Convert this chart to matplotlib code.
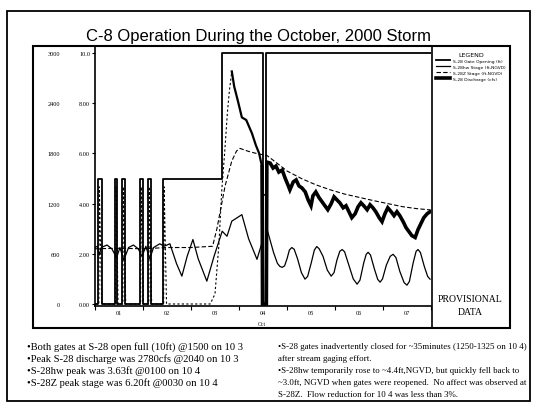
import matplotlib
matplotlib.use("Agg")
import matplotlib.pyplot as plt
from matplotlib.patches import Rectangle

# days in October 2000 (1.0 = 10/1 00:00)
gate_t = [1.00, 1.06, 1.06, 1.15, 1.15, 1.42, 1.42, 1.46, 1.46, 1.56, 1.56, 1.63, 1.63,
          1.94, 1.94, 2.00, 2.00, 2.10, 2.10, 2.17, 2.17, 2.42, 2.42, 3.64, 3.64,
          4.49, 4.49, 4.57, 4.57, 8.00]
gate_ft = [0, 0, 5, 5, 0, 0, 5, 5, 0, 0, 5, 5, 0,
           0, 5, 5, 0, 0, 5, 5, 0, 0, 5, 5, 10,
           10, 0, 0, 10, 10]

# S-28 discharge (cfs), rising limb
flow_rise_t = [1.00, 1.08, 1.09, 1.14, 1.43, 1.44, 1.48, 1.58, 1.59, 1.64, 1.95, 1.96, 2.01,
               2.12, 2.13, 2.18, 2.43, 2.44, 2.49, 2.70, 3.00, 3.40, 3.50, 3.58, 3.64,
               3.70, 3.76, 3.80, 3.85]
flow_rise = [0, 0, 1400, 0, 0, 1400, 0, 0, 1400, 0, 0, 1400, 0,
             0, 1400, 0, 0, 1400, 0, 0, 0, 0, 120, 700, 1350,
             1800, 2300, 2550, 2780]
# falling limb (gauge record)
flow_fall_t = [3.85, 3.90, 3.98, 4.06, 4.15, 4.27, 4.35, 4.42, 4.48, 4.49, 4.57, 4.58,
               4.65, 4.71, 4.77, 4.83, 4.90, 4.96, 5.02, 5.06, 5.13, 5.19, 5.25, 5.31,
               5.38, 5.44, 5.50, 5.54, 5.60, 5.67, 5.73, 5.79, 5.85, 5.92, 5.98, 6.04,
               6.10, 6.17, 6.23, 6.29, 6.35, 6.42, 6.48, 6.54, 6.60, 6.67, 6.73, 6.79,
               6.85, 6.92, 6.98, 7.04, 7.10, 7.17, 7.23, 7.29, 7.35, 7.42, 7.48, 7.54,
               7.60, 7.67, 7.73, 7.79, 7.85, 7.92, 7.98]
flow_fall = [2780, 2600, 2420, 2230, 2200, 2040, 1900, 1800, 1640, 0, 0, 1696,
             1684, 1625, 1649, 1577, 1601, 1506, 1423, 1364, 1459, 1483, 1411, 1388,
             1340, 1245, 1174, 1293, 1340, 1269, 1222, 1174, 1127, 1198, 1281, 1245,
             1210, 1150, 1174, 1103, 1032, 1079, 1162, 1210, 1174, 1127, 1186, 1150,
             1103, 1032, 984, 1079, 1150, 1103, 1056, 1103, 1056, 984, 913, 866,
             818, 795, 890, 961, 1032, 1079, 1103]

# S-28hw stage (ft, NGVD)
hw_t = [1.00, 1.05, 1.09, 1.13, 1.25, 1.35, 1.45, 1.52, 1.60, 1.70, 1.80, 1.90, 1.98,
        2.06, 2.14, 2.22, 2.35, 2.44, 2.56, 2.70, 2.81, 2.92, 3.04, 3.15, 3.33, 3.48,
        3.65, 3.75, 3.85, 4.06, 4.20, 4.375, 4.48, 4.50, 4.56, 4.58,
        4.64, 4.72, 4.80, 4.85, 4.90, 4.95, 5.00, 5.05, 5.10, 5.15, 5.22, 5.30, 5.375,
        5.43, 5.50, 5.57, 5.62, 5.67, 5.75, 5.84, 5.92, 5.98, 6.04, 6.10, 6.15, 6.20,
        6.28, 6.38, 6.46, 6.52, 6.60, 6.65, 6.69, 6.74, 6.82, 6.89, 6.94, 6.99, 7.07,
        7.15, 7.21, 7.27, 7.35, 7.44, 7.50, 7.55, 7.63, 7.69, 7.73, 7.78, 7.86, 7.93,
        7.98]
hw_ft = [2.25, 2.30, 1.95, 2.25, 2.35, 2.20, 1.85, 2.25, 1.75, 2.25, 2.35, 2.20, 1.90,
         2.30, 1.80, 2.25, 2.40, 2.30, 2.40, 1.60, 1.11, 1.90, 2.57, 1.80, 0.91, 1.90,
         2.90, 2.70, 3.30, 3.56, 2.60, 1.78, 2.45, 4.40, 4.30, 3.00,
         2.60, 2.05, 1.62, 1.50, 1.46, 1.52, 1.80, 2.15, 2.25, 2.18, 1.80, 1.25, 0.99,
         1.10, 1.60, 2.15, 2.29, 2.20, 1.90, 1.35, 1.11, 1.25, 1.75, 2.10, 2.17, 2.08,
         1.60, 1.00, 0.79, 0.95, 1.65, 1.98, 2.06, 1.95, 1.40, 0.98, 0.87, 1.00, 1.55,
         1.90, 1.98, 1.85, 1.30, 0.85, 0.75, 0.90, 1.65, 2.10, 2.17, 2.05, 1.50, 1.10,
         0.99]

# S-28Z stage (ft, NGVD)
z_t = [1.00, 1.50, 2.00, 2.50, 3.00, 3.45, 3.54, 3.71, 3.85, 3.95, 4.02, 4.20, 4.40,
       4.58, 4.80, 5.00, 5.30, 5.60, 5.90, 6.20, 6.50, 6.80, 7.10, 7.40, 7.70, 7.98]
z_ft = [2.20, 2.22, 2.20, 2.25, 2.25, 2.30, 3.00, 4.70, 5.70, 6.10, 6.20, 6.08, 5.98,
        5.92, 5.60, 5.30, 5.00, 4.75, 4.55, 4.38, 4.25, 4.12, 4.00, 3.88, 3.80, 3.75]

day_labels = ["01", "02", "03", "04", "05", "06", "07"]
stage_ticks = [0, 2, 4, 6, 8, 10]
stage_labels = ["0.00", "2.00", "4.00", "6.00", "8.00", "10.0"]
flow_ticks = [0, 600, 1200, 1800, 2400, 3000]

notes_left = [
    "\u2022Both gates at S-28 open full (10ft) @1500 on 10 3",
    "\u2022Peak S-28 discharge was 2780cfs @2040 on 10 3",
    "\u2022S-28hw peak was 3.63ft @0100 on 10 4",
    "\u2022S-28Z peak stage was 6.20ft @0030 on 10 4",
]
notes_right = [
    "\u2022S-28 gates inadvertently closed for ~35minutes (1250-1325 on 10 4)",
    "after stream gaging effort.",
    "\u2022S-28hw temporarily rose to ~4.4ft,NGVD, but quickly fell back to",
    "~3.0ft, NGVD when gates were reopened.  No affect was observed at",
    "S-28Z.  Flow reduction for 10 4 was less than 3%.",
]

W, H = 537, 410
fig = plt.figure(figsize=(W / 100, H / 100), dpi=100)
fig.patch.set_facecolor("white")

ax = fig.add_axes([95 / W, 1 - 307 / H, 336 / W, 260 / H])
ax.patch.set_visible(False)
ax.set_xlim(1, 8)
ax.set_ylim(-0.08, 10.28)
ax2 = ax.twinx()
ax2.set_ylim(-0.08 * 300, 10.28 * 300)

ax.plot(gate_t, gate_ft, color="black", lw=1.3, zorder=4)
ax.plot(hw_t, hw_ft, color="black", lw=0.9)
ax.plot(z_t, z_ft, color="black", lw=0.8, ls=(0, (4, 2)))
ax2.plot(flow_rise_t, flow_rise, color="black", lw=0.8, ls=(0, (2, 2)))
ax2.plot(flow_fall_t[:9], flow_fall[:9], color="black", lw=1.6)
ax2.plot(flow_fall_t[8:], flow_fall[8:], color="black", lw=2.6, solid_joinstyle="miter")

for s in ["top", "right"]:
    ax.spines[s].set_visible(False)
for s in ["top", "right", "bottom"]:
    ax2.spines[s].set_visible(False)
ax.spines["left"].set_linewidth(1.2)
ax.spines["bottom"].set_linewidth(1.2)

ax.set_xticks(range(1, 9))
ax.set_xticklabels([])
ax.set_xticks([d + 0.5 for d in range(1, 8)], minor=True)
ax.set_xticklabels(day_labels, minor=True, fontsize=4.5, family="Liberation Serif")
ax.tick_params(axis="x", which="major", direction="out", length=3, width=0.8)
ax.tick_params(axis="x", which="minor", length=0, pad=3)

ax.set_yticks(stage_ticks)
ax.set_yticklabels(stage_labels, fontsize=4.5, family="Liberation Serif")
ax.tick_params(axis="y", direction="out", length=2, width=0.8, pad=1.5)

ax2.spines["left"].set_visible(False)
ax2.yaxis.set_ticks_position("left")
ax2.spines["left"].set_position(("outward", 24))
ax2.set_yticks(flow_ticks)
ax2.set_yticklabels([str(v) for v in flow_ticks], fontsize=4.5, family="Liberation Serif")
ax2.tick_params(axis="y", length=0, pad=1)

handles = ax.get_lines() + ax2.get_lines()[2:]
labels = ["S-28 Gate Opening (ft)", "S-28hw Stage (ft,NGVD)",
          "S-28Z Stage (ft,NGVD)", "S-28 Discharge (cfs)"]
fig.legend(handles, labels, loc="upper center", bbox_to_anchor=(471 / W, 1 - 50 / H),
           fontsize=3.2, title="LEGEND", title_fontsize=4.5, frameon=False,
           handlelength=3, labelspacing=0.4, borderpad=0.2)

# page decoration in pixel coordinates
ov = fig.add_axes([0, 0, 1, 1])
ov.set_xlim(0, W)
ov.set_ylim(H, 0)
ov.axis("off")
ov.add_patch(Rectangle((7, 12), 523, 390, fill=False, lw=1.3, ec="black"))
ov.add_patch(Rectangle((33, 47), 477, 282, fill=False, lw=1.5, ec="black"))
ov.plot([432, 432], [47, 329], color="black", lw=1.2)

ov.text(259, 36, "C-8 Operation During the October, 2000 Storm", ha="center",
        va="center", fontsize=12, family="Liberation Sans")
ov.text(262, 325, "Oct", ha="center", va="center", fontsize=4, family="Liberation Serif")
ov.text(470, 300, "PROVISIONAL", ha="center", va="center", fontsize=7,
        family="Liberation Serif")
ov.text(470, 313, "DATA", ha="center", va="center", fontsize=7,
        family="Liberation Serif")

for i, line in enumerate(notes_left):
    ov.text(27, 347 + 12 * i, line, ha="left", va="center", fontsize=7.6,
            family="Liberation Serif")
for i, line in enumerate(notes_right):
    ov.text(278, 347 + 12 * i, line, ha="left", va="center", fontsize=6.4,
            family="Liberation Serif")

fig.savefig("out.png", dpi=100)
